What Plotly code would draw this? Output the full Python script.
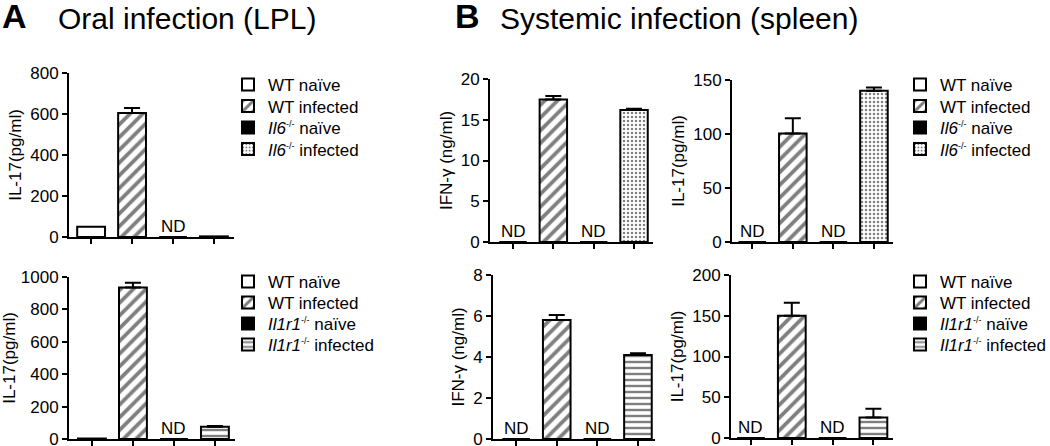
import plotly.graph_objects as go

W, H = 1050, 446
FONT = "Liberation Sans, Arial, sans-serif"

# ---------------- data ----------------
SUP = "<sup><span style='font-size:9px'>-/-</span></sup>"
groups_il6 = ["WT naïve", "WT infected", "<i>Il6</i>" + SUP + " naïve", "<i>Il6</i>" + SUP + " infected"]
groups_il1 = ["WT naïve", "WT infected", "<i>Il1r1</i>" + SUP + " naïve", "<i>Il1r1</i>" + SUP + " infected"]
cats = ["c0", "c1", "c2", "c3"]

a_top_il17 = [50, 605, 0, 3]
a_top_il17_err = [0, 24, 0, 0]
a_top_nd = [False, False, True, False]

a_bot_il17 = [3, 935, 0, 75]
a_bot_il17_err = [0, 30, 0, 5]
a_bot_nd = [False, False, True, False]

b_top_ifng = [0, 17.5, 0, 16.2]
b_top_ifng_err = [0, 0.4, 0, 0.15]
b_top_il17 = [0, 100.5, 0, 140]
b_top_il17_err = [0, 14, 0, 3]

b_bot_ifng = [0, 5.8, 0, 4.1]
b_bot_ifng_err = [0, 0.25, 0, 0.08]
b_bot_il17 = [0, 150, 0, 25]
b_bot_il17_err = [0, 16, 0, 11]
b_nd = [True, False, True, False]

# ---------------- styles ----------------
def styles(kind):
    last = "." if kind == "il6" else "-"
    return [
        dict(color="white", pattern=dict(shape="")),
        dict(color="white", pattern=dict(shape="/", fgcolor="black", bgcolor="white", size=9, solidity=0.42)),
        dict(color="black", pattern=dict(shape="")),
        dict(color="white", pattern=dict(shape=last, fgcolor="black", bgcolor="white",
                                         size=(4 if last == "." else 6), solidity=(0.3 if last == "." else 0.4))),
    ]

def px_x(x0, x1):
    return [x0 / W, x1 / W]

def px_y(y0, y1):
    return [1 - y1 / H, 1 - y0 / H]

fig = go.Figure()

rows_top = [85, 106.5, 128, 149.5]
rows_bot = [282, 303, 324, 345]

panels = [
    dict(x=(69, 234), y=(73, 237), v=a_top_il17, e=a_top_il17_err, nd=a_top_nd, ymax=800, dt=200,
         title="IL-17(pg/ml)", kind="il6", leg=(228, rows_top), xr=(-0.54, 3.49)),
    dict(x=(69, 235), y=(277, 439), v=a_bot_il17, e=a_bot_il17_err, nd=a_bot_nd, ymax=1000, dt=200,
         title="IL-17(pg/ml)", kind="il1", leg=(228, rows_bot), xr=(-0.56, 3.49)),
    dict(x=(490, 653), y=(79, 242), v=b_top_ifng, e=b_top_ifng_err, nd=b_nd, ymax=20, dt=5,
         title="IFN-γ (ng/ml)", kind="il6", leg=None, xr=(-0.57, 3.47)),
    dict(x=(732, 893), y=(80, 242), v=b_top_il17, e=b_top_il17_err, nd=b_nd, ymax=150, dt=50,
         title="IL-17(pg/ml)", kind="il6", leg=(900, rows_top), xr=(-0.5, 3.47)),
    dict(x=(493, 655), y=(275, 439), v=b_bot_ifng, e=b_bot_ifng_err, nd=b_nd, ymax=8, dt=2,
         title="IFN-γ (ng/ml)", kind="il1", leg=None, xr=(-0.57, 3.42)),
    dict(x=(731, 893), y=(275, 438), v=b_bot_il17, e=b_bot_il17_err, nd=b_nd, ymax=200, dt=50,
         title="IL-17(pg/ml)", kind="il1", leg=(900, rows_bot), xr=(-0.49, 3.48)),
]

annotations = []
legends = {}
leg_count = 0
for i, p in enumerate(panels):
    n = "" if i == 0 else str(i + 1)
    xa, ya = "x" + n, "y" + n
    names = groups_il6 if p["kind"] == "il6" else groups_il1
    st = styles(p["kind"])
    for j in range(4):
        err = None
        if p["e"][j] > 0:
            err = dict(type="data", symmetric=False, array=[p["e"][j]], arrayminus=[0],
                       color="black", thickness=2, width=8)
        legid = "legend"
        show = False
        if p["leg"] is not None:
            leg_count += 1
            legid = "legend" if leg_count == 1 else "legend" + str(leg_count)
            show = True
            lx, rows = p["leg"]
            legends[legid] = dict(x=lx / W, y=1 - rows[j] / H, xanchor="left", yanchor="middle",
                                  bgcolor="rgba(0,0,0,0)", borderwidth=0,
                                  font=dict(size=17, color="black", family=FONT),
                                  itemclick=False, itemdoubleclick=False)
        fig.add_trace(go.Bar(
            x=[cats[j]], y=[p["v"][j]], name=names[j], width=0.68,
            marker=dict(color=st[j]["color"], pattern=st[j]["pattern"],
                        line=dict(color="black", width=2)),
            error_y=err, xaxis=xa, yaxis=ya,
            showlegend=show, legend=legid, hoverinfo="skip",
        ))
        if p["nd"][j]:
            annotations.append(dict(text="ND", x=cats[j], y=0, xref=xa, yref=ya, yanchor="bottom",
                                    showarrow=False, yshift=-1, font=dict(size=17, color="black", family=FONT)))
    key = "" if i == 0 else str(i + 1)
    fig.layout["xaxis" + key] = dict(domain=px_x(*p["x"]), anchor=ya, type="category",
                                     categoryorder="array", categoryarray=cats,
                                     range=list(p["xr"]), showticklabels=False, ticks="outside",
                                     ticklen=5, tickwidth=2, tickcolor="black", showline=True,
                                     linecolor="black", linewidth=2, showgrid=False, zeroline=False,
                                     fixedrange=True, automargin=False)
    fig.layout["yaxis" + key] = dict(domain=px_y(*p["y"]), anchor=xa, range=[0, p["ymax"]],
                                     dtick=p["dt"], tick0=0, ticks="outside", ticklen=5, tickwidth=2,
                                     tickcolor="black", showline=True, linecolor="black", linewidth=2,
                                     showgrid=False, zeroline=False, automargin=False,
                                     ticklabeloverflow="allow",
                                     tickfont=dict(size=17, color="black", family=FONT),
                                     title=dict(text=p["title"], font=dict(size=17, color="black", family=FONT),
                                                standoff=4),
                                     fixedrange=True)

annotations += [
    dict(text="<b>A</b>", x=0 / W, y=1 - 16 / H, xref="paper", yref="paper", xanchor="left", yanchor="middle",
         showarrow=False, font=dict(size=34, color="black", family=FONT)),
    dict(text="Oral infection (LPL)", x=56 / W, y=1 - 18 / H, xref="paper", yref="paper", xanchor="left",
         yanchor="middle", showarrow=False, font=dict(size=30, color="black", family=FONT)),
    dict(text="<b>B</b>", x=453 / W, y=1 - 16 / H, xref="paper", yref="paper", xanchor="left", yanchor="middle",
         showarrow=False, font=dict(size=34, color="black", family=FONT)),
    dict(text="Systemic infection (spleen)", x=498 / W, y=1 - 18 / H, xref="paper", yref="paper",
         xanchor="left", yanchor="middle", showarrow=False, font=dict(size=30, color="black", family=FONT)),
]

fig.update_layout(
    width=W, height=H, margin=dict(l=0, r=0, t=0, b=0, pad=0, autoexpand=False),
    paper_bgcolor="white", plot_bgcolor="white",
    barmode="overlay", annotations=annotations, hovermode=False,
    font=dict(family=FONT, color="black"),
    **legends,
)

fig.write_html("out.html", config={"displayModeBar": False, "staticPlot": False},
               post_script="document.body.style.margin='0px';document.body.style.overflow='hidden';")
